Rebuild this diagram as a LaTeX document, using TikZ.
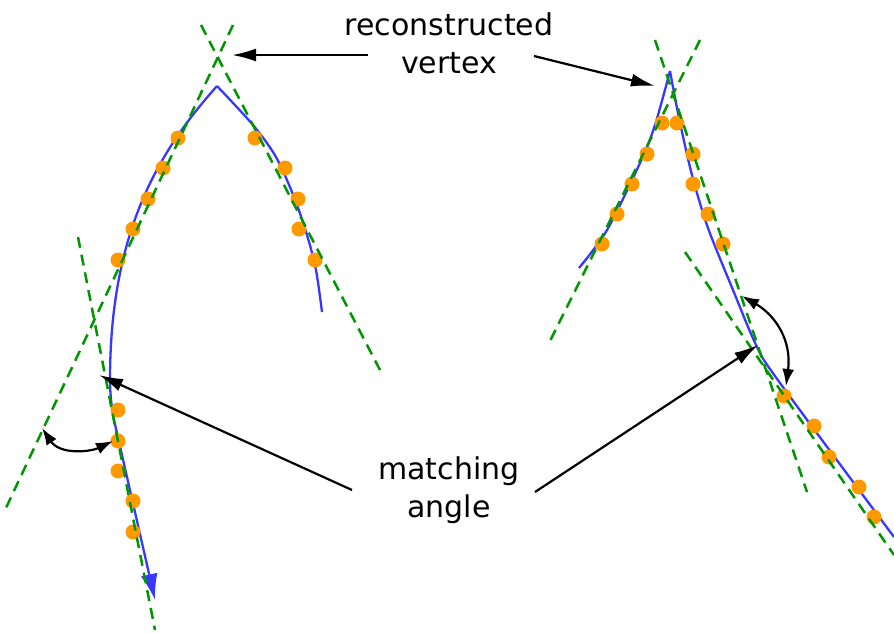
\documentclass[tikz,border=0pt]{standalone}
\usepackage{fontspec}
\setmainfont{DejaVu Sans}
\usetikzlibrary{arrows.meta}
\definecolor{trackblue}{RGB}{55,55,255}
\definecolor{fitgreen}{RGB}{0,150,0}
\definecolor{hitorange}{RGB}{255,153,0}
\tikzset{
  fitline/.style={draw=fitgreen, line width=2.5pt, dash pattern=on 11pt off 7pt},
  track/.style={draw=trackblue, line width=2.3pt},
  pointer/.style={draw=black, line width=2.2pt, -{Latex[length=24pt,width=13pt]}},
  anglearrow/.style={draw=black, line width=2.2pt, {Latex[length=17pt,width=12pt]}-{Latex[length=17pt,width=12pt]}},
  label/.style={align=center, font=\fontsize{30}{38}\selectfont, inner sep=0pt},
}
\begin{document}
\begin{tikzpicture}[x=1pt,y=-1pt]
\useasboundingbox (0,0) rectangle (894,633);
% ---------- left event: tracks ----------
\draw[track, -{Latex[length=26pt,width=17pt]}] (217,86) .. controls (160,150) and (110,230) .. (110,380)
   .. controls (110,395) and (112,410) .. (114,420) -- (155,600);
\draw[track] plot[smooth] coordinates {(217,86) (253,125) (276,157) (294,197) (307,235) (316,270) (322,312)};
% ---------- right event: tracks ----------
\draw[track] plot[smooth] coordinates {(579,268) (607,230) (640,163) (655,125) (670,71)};
\draw[track] plot[smooth] coordinates {(670,71) (679,118) (692,175) (708,228) (733,290) (757,347) (780,383) (894,537)};
% ---------- hits ----------
\foreach \p in {(178,138),(163,168),(148,199),(133,229),(118,260),
                (255,138),(285,168),(298,199),(299,229),(315,260),
                (118,410),(118,441),(118,471),(133,501),(133,532),
                (662,123),(647,154),(632,184),(617,214),(602,244),
                (677,123),(693,154),(693,184),(708,214),(723,244),
                (784,396),(814,426),(829,457),(859,487),(874,517)}
  \fill[hitorange] \p circle (7.5);
% ---------- fitted lines ----------
\coordinate (la1) at (201,25);  \coordinate (la2) at (380,370);
\coordinate (lb1) at (233,25);  \coordinate (lb2) at (5,510);
\coordinate (lc1) at (78,237);  \coordinate (lc2) at (155,630);
\coordinate (ra1) at (655,40);  \coordinate (ra2) at (807,492);
\coordinate (rb1) at (700,40);  \coordinate (rb2) at (548,345);
\coordinate (rc1) at (685,252); \coordinate (rc2) at (894,555);
\draw[fitline] (la1) -- (la2);
\draw[fitline] (lb1) -- (lb2);
\draw[fitline] (lc1) -- (lc2);
\draw[fitline] (ra1) -- (ra2);
\draw[fitline] (rb1) -- (rb2);
\draw[fitline] (rc1) -- (rc2);
% ---------- labels ----------
\node[label] (rv) at (449,43.6) {reconstructed\\vertex};
\node[label] (ma) at (449,490) {matching\\angle};
% ---------- pointers ----------
\coordinate (rvL) at (368,55);  \coordinate (vtxL) at (232,55);
\coordinate (rvR) at (534,56);  \coordinate (vtxR) at (655,86);
\coordinate (maL) at (352,490); \coordinate (angL) at (99,375);
\coordinate (maR) at (535,492); \coordinate (angR) at (758,345);
\draw[pointer] (rvL) -- (vtxL);
\draw[pointer] (rvR) -- (vtxR);
\draw[pointer] (maL) -- (angL);
\draw[pointer] (maR) -- (angR);
% ---------- angle arrows ----------
\coordinate (aL1) at (42,428);  \coordinate (aL2) at (113,441);
\coordinate (aR1) at (742,296); \coordinate (aR2) at (786,386);
\draw[anglearrow] (aL1) .. controls (60,455) and (90,452) .. (aL2);
\draw[anglearrow] (aR1) .. controls (775,315) and (792,340) .. (aR2);
\end{tikzpicture}
\end{document}
